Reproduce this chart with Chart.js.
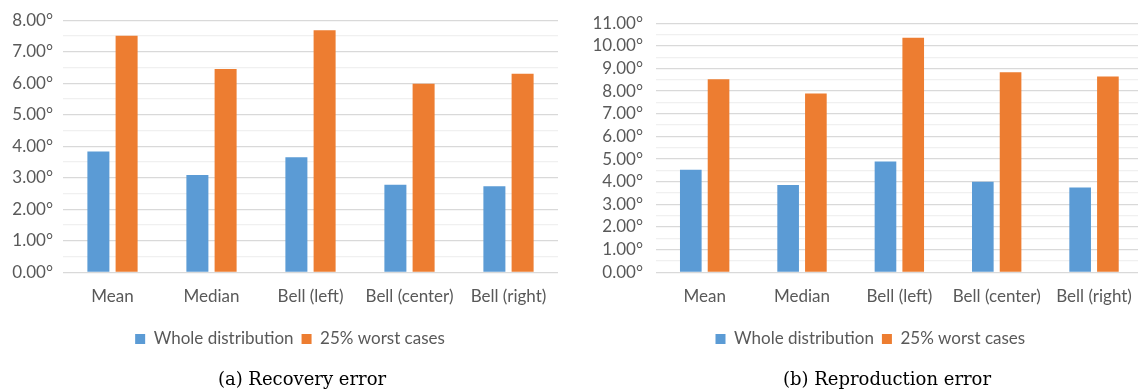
<!DOCTYPE html>
<html>
<head>
<meta charset="utf-8">
<script src="https://cdn.jsdelivr.net/npm/chart.js@4"></script>
<style>
  html, body { margin: 0; padding: 0; background: #fff; overflow: hidden; width: 1138px; height: 391px; }
  .panel { position: absolute; top: 0; height: 391px; }
  #panelA { left: 0; width: 576px; }
  #panelB { left: 570px; width: 604px; }
  .caption { position: absolute; top: 368px; font-family: "DejaVu Serif", serif; font-size: 18px; line-height: 22px;
             color: #000; white-space: nowrap; transform: translateX(-50%); }
</style>
</head>
<body>
<div class="panel" id="panelA"><canvas id="recovery"></canvas></div>
<div class="panel" id="panelB"><canvas id="reproduction"></canvas></div>
<div class="caption" style="left:302px">(a) Recovery error</div>
<div class="caption" style="left:887px">(b) Reproduction error</div>
<script>
// Error distributions (degrees) per estimator
const categories = ['Mean', 'Median', 'Bell (left)', 'Bell (center)', 'Bell (right)'];
const seriesNames = ['Whole distribution', '25% worst cases'];
const seriesColors = ['#5B9BD5', '#ED7D31'];

const recoveryWhole = [3.83, 3.09, 3.65, 2.78, 2.73];
const recoveryWorst = [7.51, 6.45, 7.68, 5.98, 6.30];

const reproductionWhole = [4.53, 3.86, 4.89, 4.00, 3.74];
const reproductionWorst = [8.53, 7.90, 10.36, 8.83, 8.65];

const recoveryAxisMax = 8;
const reproductionAxisMax = 11;

const FONT_SIZE = 17;
const LEGEND_PAD = 8;

// keeps the legend row at a fixed height under the axis labels, nudged sideways
const legendRow = {
  id: 'legendRow',
  afterLayout(chart, args, opts) {
    const lg = chart.legend;
    if (!lg) return;
    const h = lg.bottom - lg.top;
    lg.top = opts.centerY - LEGEND_PAD - FONT_SIZE / 2;
    lg.bottom = lg.top + h;
    lg.left += opts.shiftX;
    lg.right += opts.shiftX;
  }
};

function degreeLabel(v) {
  return Number.isInteger(v) ? v.toFixed(2) + '\u00B0' : '';
}

function buildChart(canvasId, whole, worst, axisMax, axisWidth, labelGap, padRight, legendShift) {
  return new Chart(document.getElementById(canvasId), {
    type: 'bar',
    data: {
      labels: categories,
      datasets: [
        { label: seriesNames[0], data: whole, backgroundColor: seriesColors[0] },
        { label: seriesNames[1], data: worst, backgroundColor: seriesColors[1] }
      ]
    },
    plugins: [legendRow],
    options: {
      responsive: true,
      maintainAspectRatio: false,
      animation: false,
      categoryPercentage: 0.57,
      barPercentage: 0.78,
      layout: { padding: { top: 16.5, right: padRight, bottom: 33.7, left: 0 } },
      plugins: {
        tooltip: { enabled: false },
        legendRow: { centerY: 339, shiftX: legendShift },
        legend: {
          position: 'bottom',
          labels: {
            boxWidth: 10, boxHeight: 10, padding: LEGEND_PAD,
            color: '#595959', font: { family: 'Lato', size: FONT_SIZE }
          }
        }
      },
      scales: {
        x: {
          grid: { display: false, drawTicks: false },
          border: { display: false },
          ticks: { color: '#595959', padding: 14, font: { family: 'Lato', size: FONT_SIZE }, maxRotation: 0 },
          afterFit(s) { s.height = 50; }
        },
        y: {
          min: 0,
          max: axisMax,
          border: { display: false },
          grid: {
            drawTicks: false,
            lineWidth: 1.3,
            color: ctx => (ctx.tick && Number.isInteger(ctx.tick.value)) ? '#d9d9d9' : '#f0f0f0'
          },
          ticks: {
            stepSize: 0.5,
            autoSkip: false,
            padding: labelGap,
            color: '#595959',
            font: { family: 'Lato', size: FONT_SIZE },
            callback: degreeLabel
          },
          afterFit(s) { s.width = axisWidth; }
        }
      }
    }
  });
}

function draw() {
  buildChart('recovery', recoveryWhole, recoveryWorst, recoveryAxisMax, 63, 10, 18, 11);
  buildChart('reproduction', reproductionWhole, reproductionWorst, reproductionAxisMax, 86, 13, 31.3, 14);
}

if (document.fonts && document.fonts.load) {
  Promise.all([document.fonts.load('17px Lato'), document.fonts.load('18px "DejaVu Serif"')])
    .then(draw, draw);
} else {
  draw();
}
</script>
</body>
</html>
